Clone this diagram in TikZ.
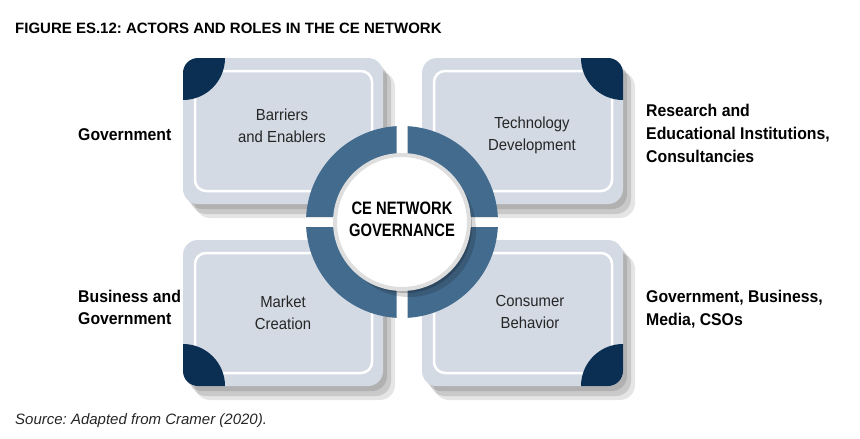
\documentclass[tikz,border=0pt]{standalone}
\usepackage{fontspec}
\usepackage{xcolor}
\usepackage{tikz}
\usetikzlibrary{shadows}
\setmainfont{Liberation Sans}
\newfontfamily\condfont[FakeStretch=0.93]{Liberation Sans}
\newfontfamily\hubfont[FakeStretch=0.82]{Liberation Sans}
\frenchspacing

\definecolor{cardfill}{HTML}{D3DAE4}
\definecolor{ringblue}{HTML}{436B8E}
\definecolor{navy}{HTML}{0B2F52}
\definecolor{hubrim}{HTML}{DEDEDE}
\definecolor{inkgray}{HTML}{262626}

\begin{document}
\begin{tikzpicture}[x=1pt, y=-1pt,
        card/.style={fill=cardfill, rounded corners=15pt,
            drop shadow={shadow xshift=4pt, shadow yshift=-5pt, opacity=0.12, fill=black},
            drop shadow={shadow xshift=8pt, shadow yshift=-10pt, opacity=0.12, fill=black},
            drop shadow={shadow xshift=12pt, shadow yshift=-14pt, opacity=0.1, fill=black}},
        cardline/.style={draw=white, line width=2.5pt, rounded corners=11pt},
        cardtext/.style={font=\condfont\fontsize{16}{22}\selectfont, text=inkgray, align=center, inner sep=0pt},
        actor/.style={font=\condfont\bfseries\fontsize{17}{23}\selectfont, align=left, anchor=west, inner sep=0pt},
        hubdisc/.style={circle, fill=white, draw=hubrim, line width=4pt, minimum size=134pt, inner sep=0pt,
            drop shadow={shadow xshift=3pt, shadow yshift=-4pt, opacity=0.2, fill=black},
            drop shadow={shadow xshift=7pt, shadow yshift=-8pt, opacity=0.15, fill=black}},
        hubtext/.style={font=\hubfont\bfseries\fontsize{18}{22}\selectfont, align=center, inner sep=0pt}]
        \useasboundingbox (0,0) rectangle (860,439);

        % Title
        \node[anchor=base west, inner sep=0pt, font=\bfseries\fontsize{15}{17}\selectfont] (title) at (15,33) {FIGURE ES.12: ACTORS AND ROLES IN THE CE NETWORK};

        % Cards with dark corners
        \foreach \xa/\ya/\xb/\yb/\cx/\cy in {183/58/383/204/183/58, 422/58/623/204/623/58, 183/240/383/386/183/386, 422/240/623/386/623/386} {
            \path[card] (\xa,\ya) rectangle (\xb,\yb);
            \draw[cardline] (\xa+12,\ya+13) rectangle (\xb-11,\yb-13);
            \begin{scope}
                \clip[rounded corners=15pt] (\xa,\ya) rectangle (\xb,\yb);
                \fill[navy] (\cx,\cy) circle (42pt);
            \end{scope}
        }

        % Card texts
        \node[cardtext] (barriers) at (282,126.2) {Barriers\\and Enablers};
        \node[cardtext] (technology) at (532,134.9) {Technology\\Development};
        \node[cardtext] (market) at (283,312.6) {Market\\Creation};
        \node[cardtext] (consumer) at (530,312) {Consumer\\Behavior};

        % Ring
        \begin{scope}[shift={(402,222)}]
            \foreach \sx/\sy in {1/1, 1/-1, -1/1, -1/-1} {
                \begin{scope}
                    \clip (\sx*5.5,\sy*5.5) rectangle (\sx*110,\sy*110);
                    \fill[ringblue, even odd rule] (0,0) circle (96pt) (0,0) circle (66pt);
                \end{scope}
            }
        \end{scope}

        % Hub
        \node[hubdisc] (hub) at (402,222) {};
        \node[hubtext] (hubtitle) at (402,219.5) {CE NETWORK\\GOVERNANCE};

        % Actors
        \node[actor, anchor=base west] (gov) at (78,140) {Government};
        \node[actor] (research) at (646,133.8) {Research and\\Educational Institutions,\\Consultancies};
        \node[actor, font=\condfont\bfseries\fontsize{17}{22}\selectfont] (business) at (78,307.8) {Business and\\Government};
        \node[actor] (media) at (646,309.5) {Government, Business,\\Media, CSOs};

        % Source
        \node[anchor=base west, inner sep=0pt, text=inkgray, font=\itshape\fontsize{15}{17}\selectfont] (source) at (15,424) {Source: Adapted from Cramer (2020).};
\end{tikzpicture}
\end{document}
